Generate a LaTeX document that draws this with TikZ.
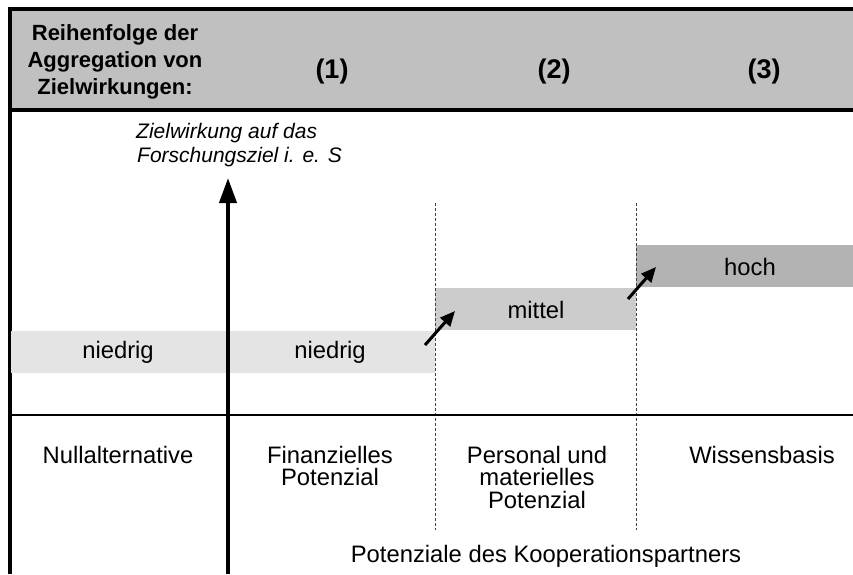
\documentclass[tikz,border=0pt]{standalone}
\usepackage{fontspec}
\setmainfont{Liberation Sans}
\usetikzlibrary{arrows.meta}
\definecolor{headgray}{HTML}{C0C0C0}
\definecolor{lowgray}{HTML}{E4E4E4}
\definecolor{midgray}{HTML}{CCCCCC}
\definecolor{highgray}{HTML}{B3B3B3}
\begin{document}
\begin{tikzpicture}[x=1pt,y=-1pt,
  frame/.style={line width=4pt},
  rule/.style={line width=2pt},
  lbl/.style={font=\fontsize{23.8}{22.5}\selectfont, inner sep=0pt, align=center},
  hdr/.style={font=\bfseries\fontsize{22}{27}\selectfont, inner sep=0pt, align=center},
  num/.style={font=\bfseries\fontsize{27}{30}\selectfont, inner sep=0pt, anchor=base},
  axislbl/.style={font=\itshape\fontsize{21}{24}\selectfont, inner sep=0pt, align=left, anchor=north west},
  band/.style={inner sep=0pt, minimum height=42pt, anchor=north west},
  divider/.style={line width=1pt, gray!50!black, dash pattern=on 3pt off 2pt},
  risearrow/.style={line width=3pt, -{Triangle[length=15pt,width=13pt]}},
  axisarrow/.style={line width=4pt, -{Triangle[length=25pt,width=17pt]}},
]
\useasboundingbox (0,0) rectangle (853,574);

% header strip
\fill[headgray] (10,9) rectangle (853,110);
\draw[frame] (8,9) -- (853,9);
\draw[frame] (10,110) -- (853,110);
\draw[frame] (10,7) -- (10,574);

\node[hdr, anchor=north] (order) at (115,24) {Reihenfolge der\\Aggregation von\\Zielwirkungen:};
\node[num] (n1) at (332,78) {(1)};
\node[num] (n2) at (554,78) {(2)};
\node[num] (n3) at (764,78) {(3)};

% level bands
\node[band, fill=lowgray, minimum width=424pt] (low) at (11,331) {};
\node[band, fill=midgray, minimum width=201pt] (mid) at (435,288) {};
\node[band, fill=highgray, minimum width=218pt] (high) at (636,245) {};

\node[lbl, anchor=base] (low0) at (118,358) {niedrig};
\node[lbl, anchor=base] (low1) at (330,358) {niedrig};
\node[lbl, anchor=base] (midtxt) at (536,318) {mittel};
\node[lbl, anchor=base] (hightxt) at (750,275) {hoch};

% column dividers
\coordinate (d1top) at (435,203);
\coordinate (d1bot) at (435,530);
\coordinate (d2top) at (636,203);
\coordinate (d2bot) at (636,530);
\draw[divider] (d1top) -- (d1bot);
\draw[divider] (d2top) -- (d2bot);

% separator above the category row
\coordinate (sepL) at (10,415);
\coordinate (sepR) at (853,415);
\draw[rule] (sepL) -- (sepR);

% step-up arrows
\coordinate (r1a) at (425,345);
\coordinate (r1b) at (455,311);
\coordinate (r2a) at (628,299);
\coordinate (r2b) at (656,267);
\draw[risearrow] (r1a) -- (r1b);
\draw[risearrow] (r2a) -- (r2b);

% vertical axis
\node[axislbl] (axistxt) at (136,123) {Zielwirkung auf das\\\hspace*{1pt}Forschungsziel i. e. S};
\coordinate (axisbase) at (228,574);
\coordinate (axistip) at (228,178);
\draw[axisarrow] (axisbase) -- (axistip);

% categories
\node[lbl, anchor=north] (c0) at (118,446) {Nullalternative};
\node[lbl, anchor=north] (c1) at (330,446) {Finanzielles\\Potenzial};
\node[lbl, anchor=north] (c2) at (537,446) {Personal und\\materielles\\Potenzial};
\node[lbl, anchor=north] (c3) at (762,446) {Wissensbasis};
\node[lbl, anchor=base] (partner) at (546,562) {Potenziale des Kooperationspartners};
\end{tikzpicture}
\end{document}
